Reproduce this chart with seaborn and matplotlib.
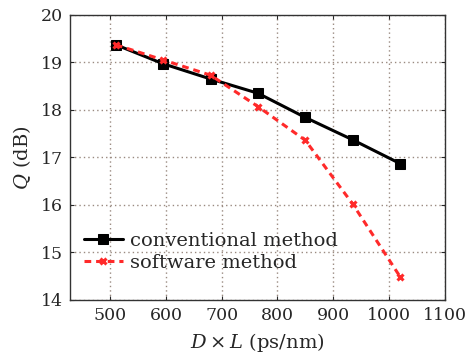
import matplotlib
matplotlib.use('Agg')
import matplotlib.pyplot as plt
import seaborn as sns
import pandas as pd

# data
dl = [510, 595, 680, 765, 850, 935, 1020]
q_conventional = [19.37, 18.97, 18.65, 18.35, 17.84, 17.37, 16.87]
q_software = [19.37, 19.05, 18.73, 18.07, 17.36, 16.02, 14.49]
xticks = [500, 600, 700, 800, 900, 1000, 1100]
yticks = [14, 15, 16, 17, 18, 19, 20]


def main():
    sns.set_style('ticks')
    plt.rcParams['font.family'] = ['DejaVu Serif']
    plt.rcParams['mathtext.fontset'] = 'dejavuserif'

    df_conv = pd.DataFrame({'x': dl, 'y': q_conventional})
    df_soft = pd.DataFrame({'x': dl, 'y': q_software})

    fig = plt.figure(figsize=(4.65, 3.54), dpi=100)
    ax = fig.add_axes([0.151, 0.153, 0.805, 0.805])

    sns.lineplot(data=df_conv, x='x', y='y', ax=ax, color='black', linewidth=2.2,
                 marker='s', markersize=7, markeredgecolor='black',
                 label='conventional method')
    sns.lineplot(data=df_soft, x='x', y='y', ax=ax, color='#ff2a2a', linewidth=2.2,
                 linestyle=(0, (2.2, 1.6)), marker='x', markersize=5,
                 markeredgewidth=2.2, markeredgecolor='#ff2a2a',
                 label='software method')

    ax.set_xlim(428, 1100)
    ax.set_ylim(14, 20)
    ax.set_xticks(xticks)
    ax.set_yticks(yticks)
    ax.grid(True, linestyle=(0, (1, 2.2)), color='#9a8a80', linewidth=1.0)

    ax.tick_params(direction='in', length=3, top=True, right=True,
                   labelsize=12.5, width=0.8, pad=5)
    for s in ax.spines.values():
        s.set_linewidth(1.0)
        s.set_color('#333333')

    ax.set_xlabel(r'$D\times L$ (ps/nm)', fontsize=14, labelpad=5)
    ax.set_ylabel(r'$Q$ (dB)', fontsize=14, labelpad=6)

    ax.legend(loc='lower left', bbox_to_anchor=(0.0, 0.05), frameon=False,
              fontsize=14, handlelength=2.0, handletextpad=0.4,
              labelspacing=0.2, borderaxespad=0.3)

    fig.savefig('out.png', dpi=100)


if __name__ == '__main__':
    main()
